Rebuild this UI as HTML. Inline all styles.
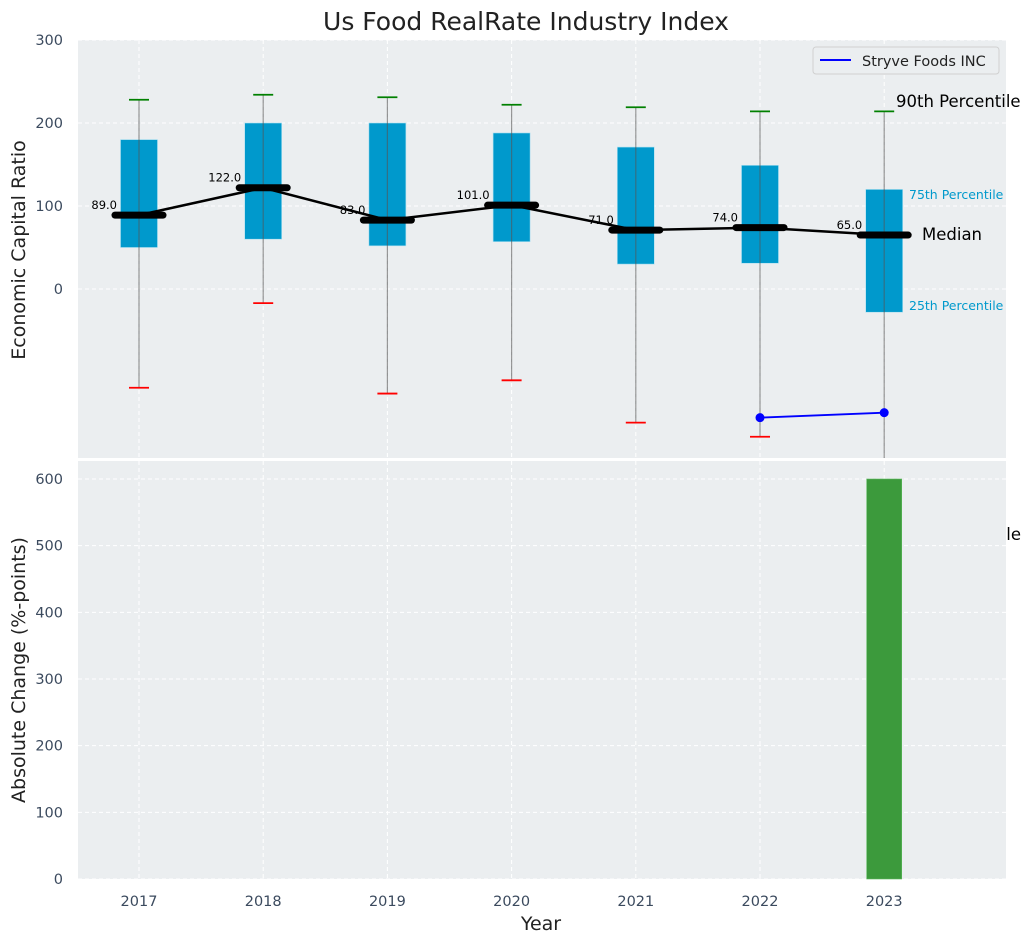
<!DOCTYPE html>
<html><head><meta charset="utf-8"><style>
html,body{margin:0;padding:0;background:#fff;}
svg text{font-family:"DejaVu Sans","Liberation Sans",sans-serif;}
</style></head><body>
<svg id="chart" width="1031" height="942" viewBox="0 0 1031 942" xmlns="http://www.w3.org/2000/svg">
<defs>
<clipPath id="clipTop"><rect x="78" y="40" width="928" height="418"/></clipPath>
<clipPath id="clipRight"><rect x="1006" y="0" width="25" height="942"/></clipPath>
</defs>
<text x="526" y="30" text-anchor="middle" font-size="25" fill="#222">Us Food RealRate Industry Index</text>
<rect x="78" y="40" width="928" height="418" fill="#ebeef0"/>
<rect x="78" y="461" width="928" height="418" fill="#ebeef0"/>
<g id="topGrid"></g><g id="botGrid"></g>
<g id="topMarks" clip-path="url(#clipTop)"></g>
<g id="botMarks"></g>
<g id="labels"></g>
<text x="25" y="250" transform="rotate(-90 25 250)" text-anchor="middle" font-size="19" fill="#222">Economic Capital Ratio</text>
<text x="25" y="670" transform="rotate(-90 25 670)" text-anchor="middle" font-size="19" fill="#222">Absolute Change (%-points)</text>
<text x="541" y="930" text-anchor="middle" font-size="19" fill="#222">Year</text>
<g>
<rect x="813" y="47" width="186" height="27" rx="3" fill="#ebeef0" stroke="#d0d0d0"/>
<line x1="820" y1="60" x2="851" y2="60" stroke="#0000ff" stroke-width="2"/>
<text x="862" y="66" font-size="14.5" fill="#222">Stryve Foods INC</text>
</g>
<text x="896" y="107" font-size="16.5" fill="#000">90th Percentile</text>
<text x="909" y="199" font-size="12.5" fill="#0099cc">75th Percentile</text>
<text x="922" y="240" font-size="16.5" fill="#000">Median</text>
<text x="909" y="310" font-size="12.5" fill="#0099cc">25th Percentile</text>
<text x="1021" y="540" text-anchor="end" font-size="16.5" fill="#000" clip-path="url(#clipRight)">90th Percentile</text>
</svg>
<script>
const years = [2017, 2018, 2019, 2020, 2021, 2022, 2023];
const p90 = [228, 234, 231, 222, 219, 214, 214];
const p75 = [180, 200, 200, 188, 171, 149, 120];
const median = [89, 122, 83, 101, 71, 74, 65];
const p25 = [50, 60, 52, 57, 30, 31, -28];
const p10 = [-119, -17, -126, -110, -161, -178, -260];
const companyYears = [2022, 2023];
const companyValues = [-155, -149];
const changeYears = [2023];
const changeValues = [600];
const topTicks = [0, 100, 200, 300];
const botTicks = [0, 100, 200, 300, 400, 500, 600];

const NS = 'http://www.w3.org/2000/svg';
function xS(y){ return 139 + (y - 2017) * 124.2; }
function yT(v){ return 289 - v * 0.83; }
function yB(v){ return 879 - v * (400/600); }
function mk(tag, attrs, parent){ const e = document.createElementNS(NS, tag); for (const k in attrs) e.setAttribute(k, attrs[k]); parent.appendChild(e); return e; }
const tg = document.getElementById('topGrid'), bg = document.getElementById('botGrid');
const tm = document.getElementById('topMarks'), bm = document.getElementById('botMarks'), lb = document.getElementById('labels');

topTicks.forEach(t => {
  const l = mk('line', {x1:78, x2:1006, y1:yT(t), y2:yT(t), stroke:'#fff', 'stroke-dasharray':'4,3', 'stroke-width':1}, tg);
  
  
  const tx = mk('text', {x:63, y:yT(t)+5, 'text-anchor':'end', 'font-size':14.5, fill:'#3b4a5e'}, lb);
  tx.textContent = t;
  
  
});
botTicks.forEach(t => {
  const l = mk('line', {x1:78, x2:1006, y1:yB(t), y2:yB(t), stroke:'#fff', 'stroke-dasharray':'4,3', 'stroke-width':1}, bg);
  
  
  const tx = mk('text', {x:63, y:yB(t)+5, 'text-anchor':'end', 'font-size':14.5, fill:'#3b4a5e'}, lb);
  tx.textContent = t;
  
  
});
years.forEach(y => {
  [[40,458],[461,879]].forEach(r => {
    const l = mk('line', {x1:xS(y), x2:xS(y), y1:r[0], y2:r[1], stroke:'#fff', 'stroke-dasharray':'4,3', 'stroke-width':1}, bg);
    
    
  });
  const tx = mk('text', {x:xS(y), y:906, 'text-anchor':'middle', 'font-size':14.5, fill:'#3b4a5e'}, lb);
  tx.textContent = y;
  
  
});

years.forEach((y, i) => {
  const x = xS(y);
  const box = mk('rect', {x:x-18.5, y:yT(p75[i]), width:37, height:yT(p25[i])-yT(p75[i]), fill:'#0099cc', stroke:'#aee0f0', 'stroke-width':0.6}, tm);
  
  
  const w = mk('line', {x1:x, x2:x, y1:yT(p90[i]), y2:yT(p10[i]), stroke:'#555', 'stroke-opacity':0.6, 'stroke-width':1.2}, tm);
  
  
  const hi = mk('line', {x1:x-10, x2:x+10, y1:yT(p90[i]), y2:yT(p90[i]), stroke:'#008000', 'stroke-width':1.8}, tm);
  
  
  const lo = mk('line', {x1:x-10, x2:x+10, y1:yT(p10[i]), y2:yT(p10[i]), stroke:'#ff0000', 'stroke-width':1.8}, tm);
  
  
});
const medPts = years.map((y, i) => xS(y) + ',' + yT(median[i])).join(' ');
const ml = mk('polyline', {points:medPts, fill:'none', stroke:'#000', 'stroke-width':2.5}, tm);


years.forEach((y, i) => {
  const x = xS(y);
  const mb = mk('line', {x1:x-24, x2:x+24, y1:yT(median[i]), y2:yT(median[i]), stroke:'#000', 'stroke-width':7, 'stroke-linecap':'round'}, tm);
  
  
  const tx = mk('text', {x:x-22, y:yT(median[i])-6, 'text-anchor':'end', 'font-size':11.5, fill:'#000'}, tm);
  tx.textContent = median[i].toFixed(1);
  
  
});
const cp = companyYears.map((y, i) => xS(y) + ',' + yT(companyValues[i])).join(' ');
const cl = mk('polyline', {points:cp, fill:'none', stroke:'#0000ff', 'stroke-width':1.8}, tm);


companyYears.forEach((y, i) => {
  const c = mk('circle', {cx:xS(y), cy:yT(companyValues[i]), r:4.5, fill:'#0000ff'}, tm);
  
  
});
changeYears.forEach((y, i) => {
  const r = mk('rect', {x:xS(y)-17.5, y:yB(changeValues[i]), width:35, height:yB(0)-yB(changeValues[i]), fill:'#3c9a3c', stroke:'#5cb85c', 'stroke-width':0.6}, bm);
  
  
});
</script>
</body></html>
